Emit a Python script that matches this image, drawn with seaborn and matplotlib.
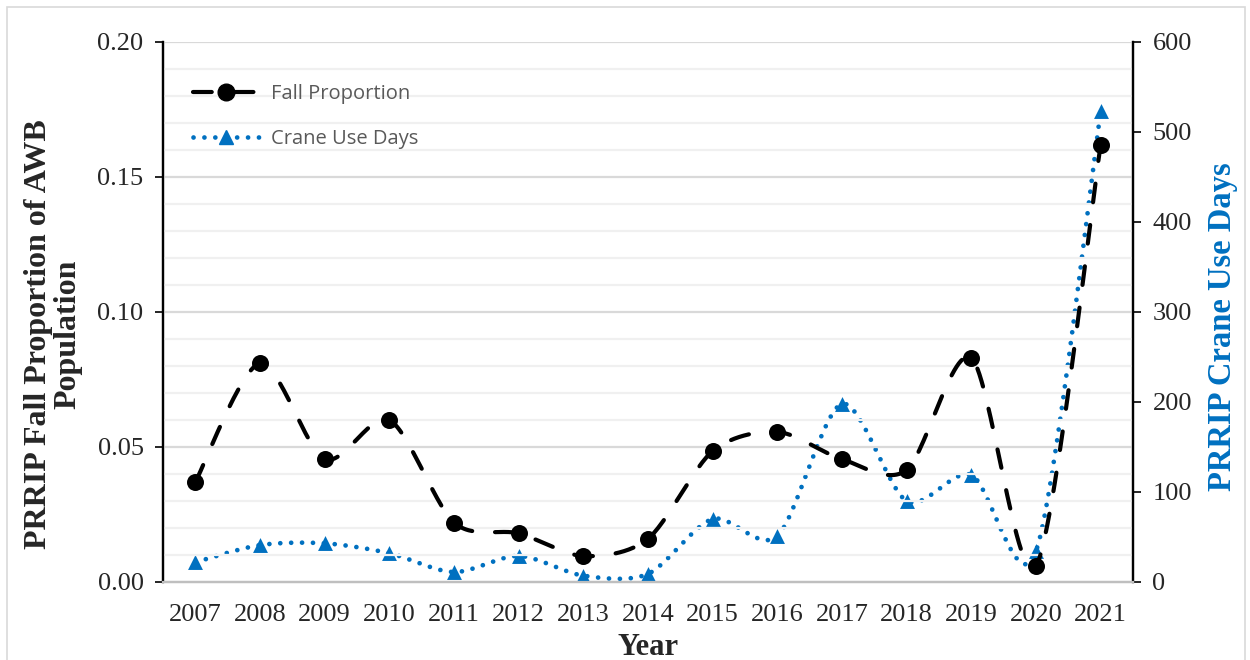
import numpy as np
import pandas as pd
import matplotlib.pyplot as plt
from matplotlib.lines import Line2D
import seaborn as sns

years = [2007, 2008, 2009, 2010, 2011, 2012, 2013, 2014, 2015, 2016, 2017, 2018, 2019, 2020, 2021]
fall_prop = [0.037, 0.081, 0.0455, 0.060, 0.022, 0.018, 0.0096, 0.016, 0.0485, 0.0556, 0.0455, 0.0415, 0.083, 0.0058, 0.162]
use_days = [22, 41, 43, 32, 11, 29, 7, 9, 70, 51, 198, 90, 119, 34, 523]

BLUE = '#0070C0'


def smooth(x, y, n=30, k=1 / 7):
    # excel-style smoothed line through the points (bezier segments)
    x = np.asarray(x, float)
    y = np.asarray(y, float)
    px = np.concatenate([[x[0]], x, [x[-1]]])
    py = np.concatenate([[y[0]], y, [y[-1]]])
    xs, ys = [], []
    t = np.linspace(0, 1, n)
    for i in range(1, len(px) - 2):
        for p, out in ((px, xs), (py, ys)):
            p0, p1, p2, p3 = p[i - 1], p[i], p[i + 1], p[i + 2]
            c1 = p1 + (p2 - p0) * k
            c2 = p2 - (p3 - p1) * k
            out.extend((1 - t) ** 3 * p1 + 3 * (1 - t) ** 2 * t * c1 + 3 * (1 - t) * t ** 2 * c2 + t ** 3 * p2)
    return np.array(xs), np.array(ys)


df = pd.DataFrame({'idx': np.arange(len(years)), 'year': years, 'prop': fall_prop, 'days': use_days})

sns.set_theme(style='white')
plt.rcParams['font.family'] = ['Liberation Serif', 'DejaVu Serif']

fig = plt.figure(figsize=(12.5, 6.6), dpi=100)
ax = fig.add_axes([0.1304, 0.1182, 0.7760, 0.8182])
ax2 = ax.twinx()

# grid
for v in np.arange(0.01, 0.2001, 0.01):
    major = abs(v / 0.05 - round(v / 0.05)) < 1e-6
    ax.axhline(v, color='#D9D9D9' if major else '#F0F0F0', lw=1.6, zorder=0)

BLACK_DASH = dict(color='black', lw=3.0, dashes=(4.5, 5.5), dash_capstyle='round')
BLUE_DOT = dict(color=BLUE, lw=3.4, dashes=(0.01, 2.3), dash_capstyle='round')

sx, sy = smooth(df['idx'], df['prop'])
ax.plot(sx, sy, zorder=3, **BLACK_DASH)
sns.scatterplot(data=df, x='idx', y='prop', ax=ax, marker='o', s=150, color='black',
                edgecolor='black', linewidth=0, zorder=4, legend=False)

sx2, sy2 = smooth(df['idx'], df['days'])
ax2.plot(sx2, sy2, zorder=3, **BLUE_DOT)
sns.scatterplot(data=df, x='idx', y='days', ax=ax2, marker='^', s=115, color=BLUE,
                edgecolor=BLUE, linewidth=0, zorder=4, legend=False)

ax.set_xlim(-0.5, len(years) - 0.5)
ax.set_ylim(0, 0.2)
ax2.set_ylim(0, 600)
ax.set_xticks(df['idx'])
ax.set_xticklabels(years)
ax.set_yticks(np.arange(0, 0.2001, 0.05))
ax.set_yticklabels([f'{v:.2f}' for v in np.arange(0, 0.2001, 0.05)])
ax2.set_yticks(np.arange(0, 601, 100))

ax.tick_params(axis='y', labelsize=19, length=6, width=1.2, direction='out', color='black', pad=8, left=True)
ax.tick_params(axis='x', labelsize=19, length=0, pad=16)
ax2.tick_params(axis='y', labelsize=19, length=6, width=1.2, direction='out', color='black', pad=8, right=True)

for a in (ax, ax2):
    a.spines['top'].set_visible(False)
    a.spines['left'].set_color('black')
    a.spines['right'].set_color('black')
    a.spines['left'].set_linewidth(1.6)
    a.spines['right'].set_linewidth(1.6)
    a.spines['bottom'].set_color('#BFBFBF')
    a.spines['bottom'].set_linewidth(1.6)
ax.set_zorder(ax2.get_zorder() + 1)
ax.patch.set_visible(False)

ax.set_xlabel('Year', fontsize=22, fontweight='bold', labelpad=5)
ax.set_ylabel('PRRIP Fall Proportion of AWB\nPopulation', fontsize=23, fontweight='bold', linespacing=1.0)
ax.yaxis.set_label_coords(-0.0835, 0.459)
ax2.set_ylabel('PRRIP Crane Use Days', fontsize=23.5, fontweight='bold', color=BLUE)
ax2.yaxis.set_label_coords(1.0763, 0.472)

handles = [
    Line2D([], [], marker='o', markersize=12, **BLACK_DASH),
    Line2D([], [], marker='^', markersize=10.5, **BLUE_DOT),
]
leg = ax.legend(handles, ['Fall Proportion', 'Crane Use Days'], loc='upper left', frameon=False,
                bbox_to_anchor=(0.012, 0.955), handlelength=3.3, handletextpad=0.6, labelspacing=1.2,
                prop={'family': 'Open Sans', 'size': 14.5})
for t in leg.get_texts():
    t.set_color('#595959')

fig.patches.append(plt.Rectangle((0.0056, -0.05), 0.9904, 1.039, transform=fig.transFigure,
                                 fill=False, edgecolor='#D9D9D9', lw=1.2))

fig.savefig('out.png', dpi=100)
